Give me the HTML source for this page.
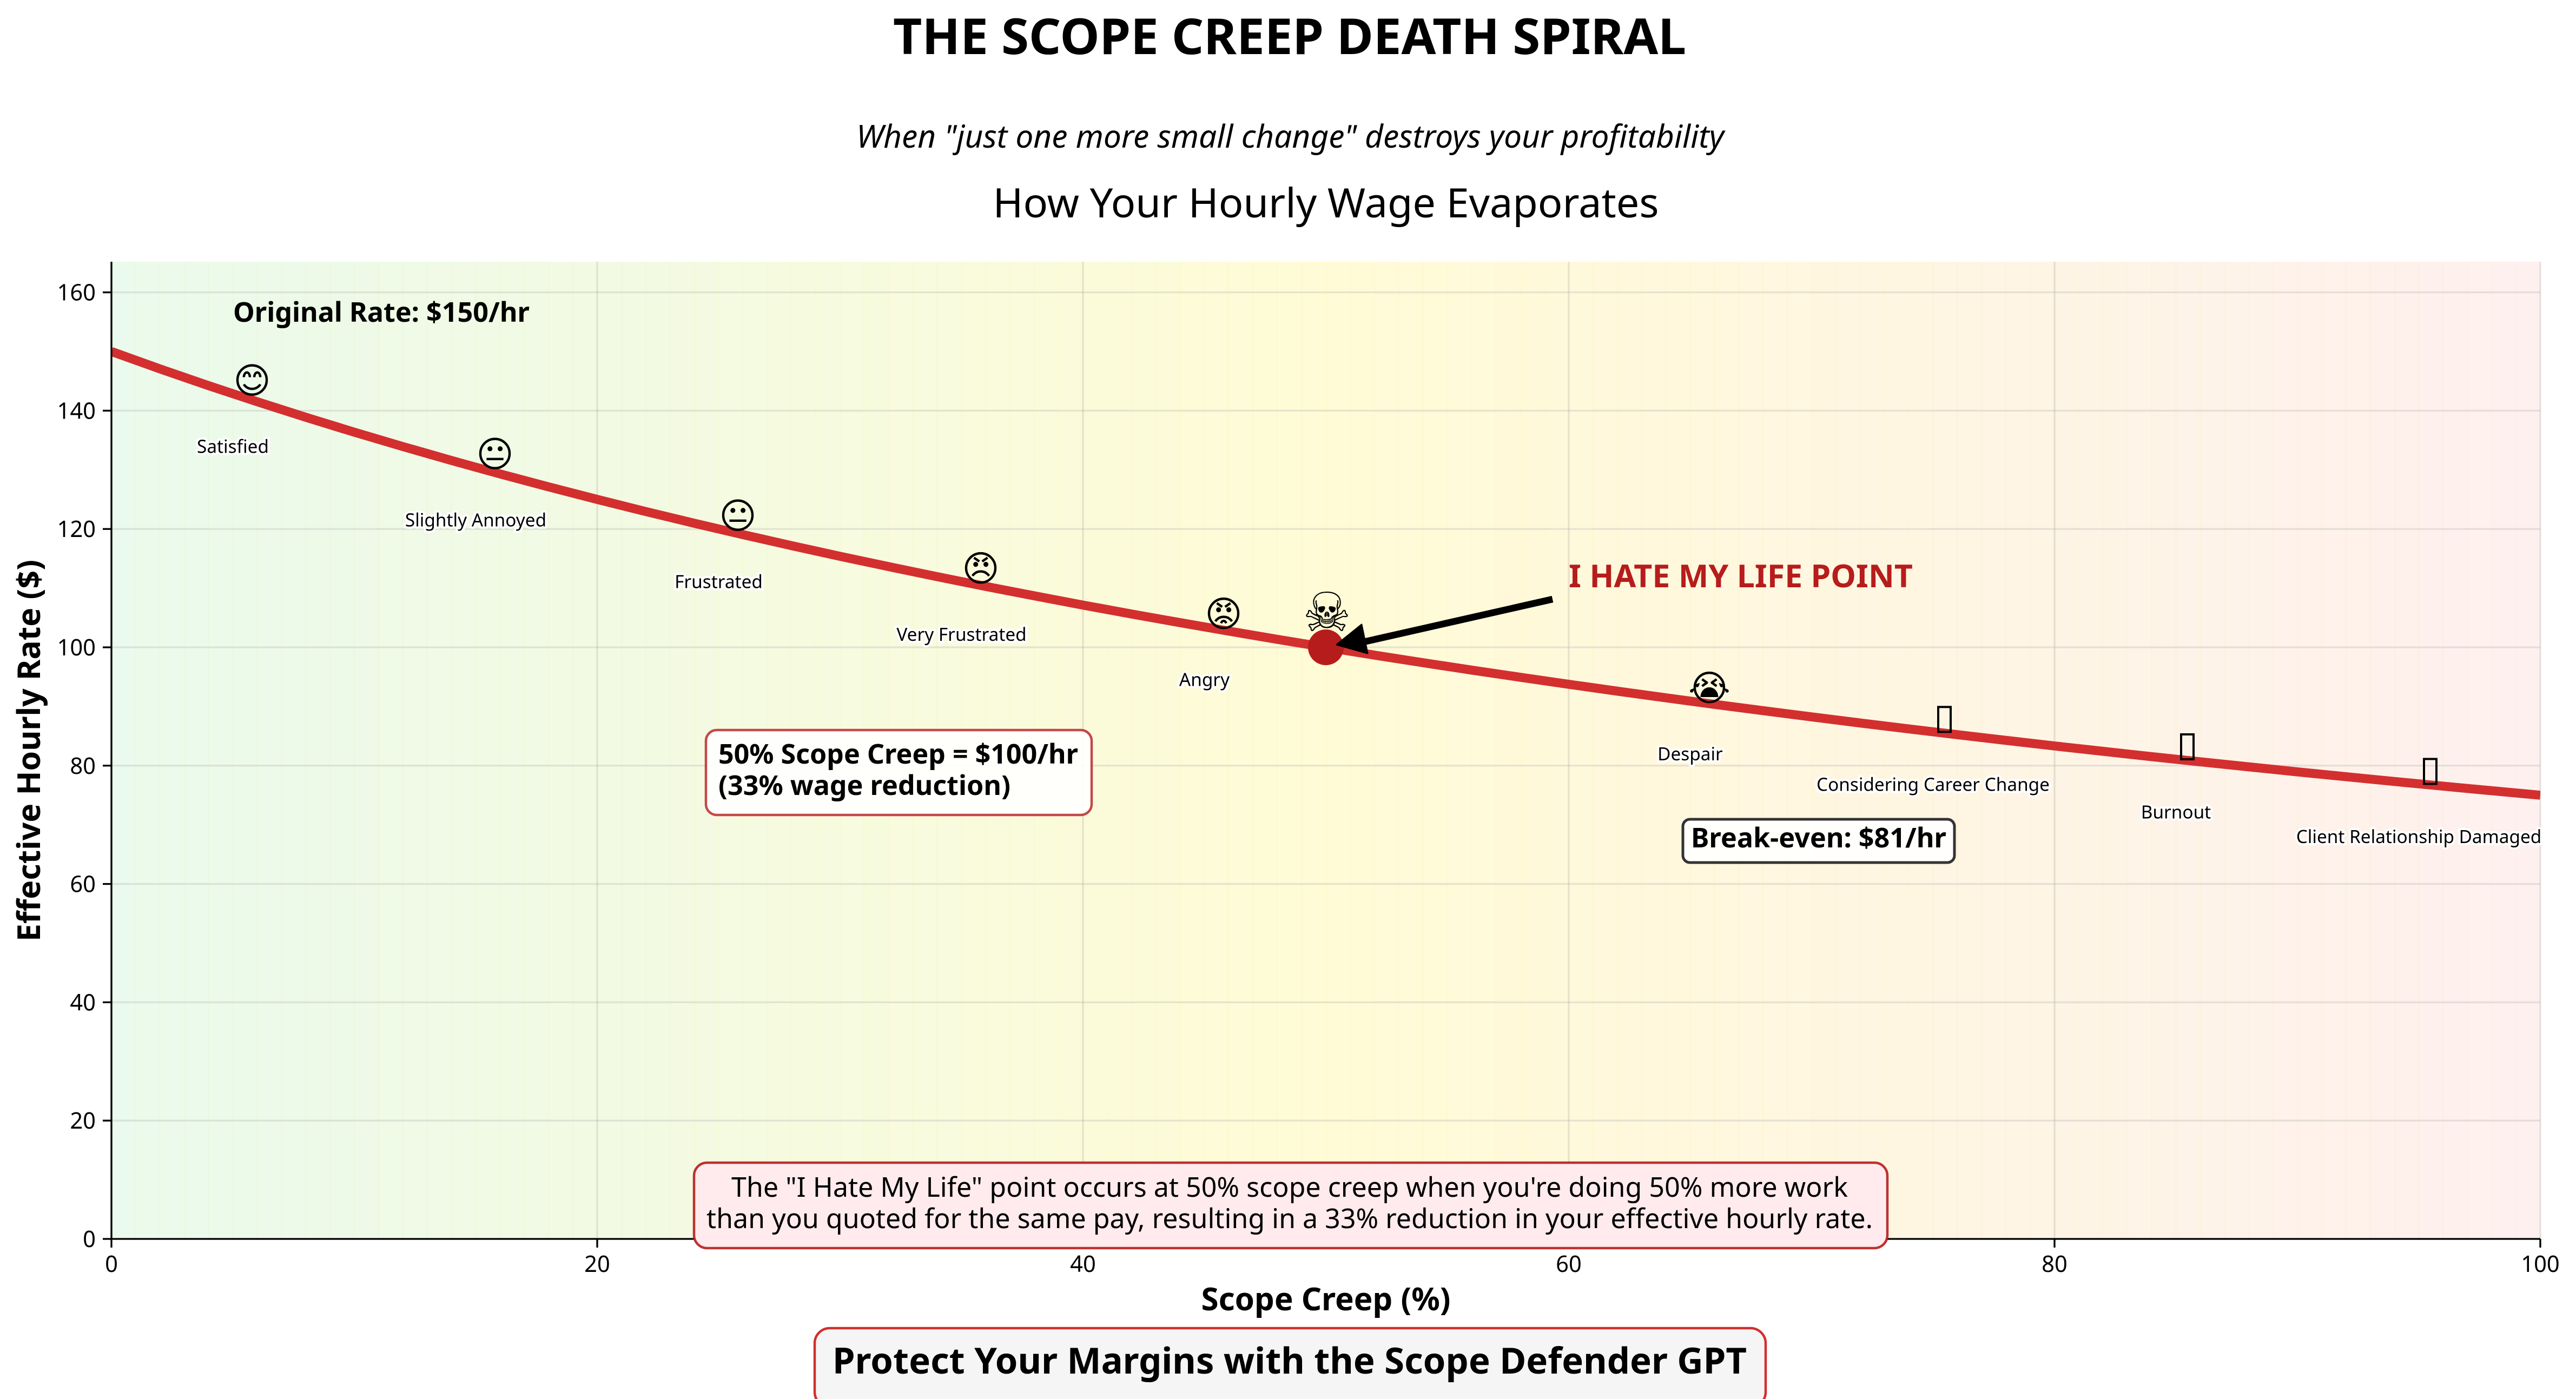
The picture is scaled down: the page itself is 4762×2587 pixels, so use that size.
<!DOCTYPE html>
<html lang="en">
<head>
<meta charset="utf-8">
<title>The Scope Creep Death Spiral</title>
<style>
html,body{margin:0;padding:0;background:#fff;width:4762px;height:2587px;overflow:hidden}
svg{display:block}
text{font-family:"Noto Sans","Noto Sans CJK JP","Liberation Sans",sans-serif;fill:#000}
.b{font-weight:700}
.emoji{font-family:"DejaVu Sans",sans-serif}
</style>
</head>
<body>
<svg id="chart" xmlns="http://www.w3.org/2000/svg" width="4762" height="2587" viewBox="0 0 4762 2587">
  <defs><clipPath id="plot-clip"><rect x="206" y="484" width="4490" height="1807"/></clipPath></defs>
  <g id="bg"></g>
  <g id="grid"></g>
  <g id="curve-layer" clip-path="url(#plot-clip)"></g>
  <g id="stages"></g>
  <g id="axes"></g>

  <text class="b" x="2384" y="100" font-size="91.67" text-anchor="middle" textLength="1466" lengthAdjust="spacingAndGlyphs">THE SCOPE CREEP DEATH SPIRAL</text>
  <text x="2385" y="273" font-size="58.33" font-style="italic" text-anchor="middle" textLength="1604" lengthAdjust="spacingAndGlyphs">When "just one more small change" destroys your profitability</text>
  <text x="2451" y="402" font-size="75" text-anchor="middle" textLength="1231" lengthAdjust="spacingAndGlyphs">How Your Hourly Wage Evaporates</text>

  <text class="b" transform="translate(74,1388) rotate(-90)" font-size="58.33" text-anchor="middle" textLength="706" lengthAdjust="spacingAndGlyphs">Effective Hourly Rate ($)</text>
  <text class="b" x="2451" y="2423" font-size="58.33" text-anchor="middle" textLength="461" lengthAdjust="spacingAndGlyphs">Scope Creep (%)</text>

  <text class="b" x="431" y="595" font-size="50" textLength="548" lengthAdjust="spacingAndGlyphs">Original Rate: $150/hr</text>

  <g>
    <rect x="1305" y="1350" width="713" height="157" rx="20" fill="#fff" fill-opacity="0.9" stroke="#b71c1c" stroke-opacity="0.8" stroke-width="4.5"/>
    <text class="b" x="1328" y="1412" font-size="50" textLength="665" lengthAdjust="spacingAndGlyphs">50% Scope Creep = $100/hr</text>
    <text class="b" x="1328" y="1470" font-size="50" textLength="540" lengthAdjust="spacingAndGlyphs">(33% wage reduction)</text>
  </g>

  <g>
    <rect x="3111" y="1515" width="502" height="80" rx="13" fill="#fff" fill-opacity="0.9" stroke="#333" stroke-width="5"/>
    <text class="b" x="3126" y="1567" font-size="50" textLength="472" lengthAdjust="spacingAndGlyphs">Break-even: $81/hr</text>
  </g>

  <text class="b" x="2900" y="1086" font-size="58.33" style="fill:#b71c1c" textLength="636" lengthAdjust="spacingAndGlyphs">I HATE MY LIFE POINT</text>

  <g>
    <rect x="1283" y="2150" width="2206" height="158" rx="24" fill="#ffebee" stroke="#b71c1c" stroke-opacity="0.9" stroke-width="4.5"/>
    <text x="2384" y="2213" font-size="50" text-anchor="middle" textLength="2064" lengthAdjust="spacingAndGlyphs">The "I Hate My Life" point occurs at 50% scope creep when you're doing 50% more work</text>
    <text x="2384" y="2271" font-size="50" text-anchor="middle" textLength="2156" lengthAdjust="spacingAndGlyphs">than you quoted for the same pay, resulting in a 33% reduction in your effective hourly rate.</text>
  </g>

  <g>
    <rect x="1506" y="2456" width="1758" height="146" rx="28" fill="#f5f5f5" stroke="#d32f2f" stroke-width="4.5"/>
    <text class="b" x="2384" y="2540" font-size="66.67" text-anchor="middle" textLength="1690" lengthAdjust="spacingAndGlyphs">Protect Your Margins with the Scope Defender GPT</text>
  </g>
</svg>
<script>
// ---- chart data ----
const curveScope = [0,2,4,6,8,10,12,14,16,18,20,22,24,26,28,30,32,34,36,38,40,42,44,46,48,50,52,54,56,58,60,62,64,66,68,70,72,74,76,78,80,82,84,86,88,90,92,94,96,98,100];
const curveRate = [150,147.06,144.23,141.51,138.89,136.36,133.93,131.58,129.31,127.12,125,122.95,120.97,119.05,117.19,115.38,113.64,111.94,110.29,108.7,107.14,105.63,104.17,102.74,101.35,100,98.68,97.4,96.15,94.94,93.75,92.59,91.46,90.36,89.29,88.24,87.21,86.21,85.23,84.27,83.33,82.42,81.52,80.65,79.79,78.95,78.13,77.32,76.53,75.76,75];
const stageNames = ["Satisfied","Slightly Annoyed","Frustrated","Very Frustrated","Angry","Despair","Considering Career Change","Burnout","Client Relationship Damaged"];
const stageScope = [5,15,25,35,45,65,75,85,95];
const stageRate = [142.86,130.43,120,111.11,103.45,90.91,85.71,81.08,76.92];
const stageGlyphs = ["\u{1F60A}","\u{1F610}","\u{1F610}","\u{1F620}","\u{1F621}","\u{1F62D}","","",""];
const labelDrop = 10;
const xTickValues = [0,20,40,60,80,100];
const yTickValues = [0,20,40,60,80,100,120,140,160];
const hatePointScope = 50;
const hatePointRate = 100;
const bandCount = 100;
const bgStopAt = [0,50,100];
const bgStopRed = [234,255,254];
const bgStopGreen = [250,251,240];
const bgStopBlue = [236,214,239];

// ---- axis functions ----
const X0 = 206, X1 = 4696, Y0 = 2291, PER_Y = 10.94;
const xPos = v => X0 + (X1 - X0) * v / 100;
const yPos = v => Y0 - PER_Y * v;
const NS = "http://www.w3.org/2000/svg";
const make = (parent, tag, attrs, text) => {
  const el = document.createElementNS(NS, tag);
  for (const k in attrs) el.setAttribute(k, attrs[k]);
  if (text !== undefined) el.textContent = text;
  parent.appendChild(el);
  return el;
};
const bg = document.getElementById("bg");
const grid = document.getElementById("grid");
const curveLayer = document.getElementById("curve-layer");
const stages = document.getElementById("stages");
const axes = document.getElementById("axes");

// background bands
function bandColor(t) {
  const j = t < bgStopAt[1] ? 0 : 1;
  const f = (t - bgStopAt[j]) / (bgStopAt[j + 1] - bgStopAt[j]);
  const mix = a => Math.round(a[j] + (a[j + 1] - a[j]) * f);
  return [mix(bgStopRed), mix(bgStopGreen), mix(bgStopBlue)];
}
for (let i = 0; i < bandCount; i++) {
  const left = xPos(i), right = xPos(i + 1);
  const c = bandColor(i + 0.5);
  const band = make(bg, "rect", {x: left, y: 484, width: right - left + 0.6, height: Y0 - 484, fill: `rgb(${c[0]},${c[1]},${c[2]})`});
  
  
  if (i > 0) {
    const seam = make(bg, "rect", {x: left - 1.6, y: 484, width: 3.2, height: Y0 - 484, fill: `rgb(${Math.max(c[0]-1,0)},${c[1]-3},${c[2]-16})`, "fill-opacity": 0.45});
    
    
  }
}

// grid
xTickValues.forEach(v => {
  const line = make(grid, "line", {x1: xPos(v), x2: xPos(v), y1: 484, y2: Y0, stroke: "#b0b0b0", "stroke-opacity": 0.3, "stroke-width": 3.33});
  
  
});
yTickValues.forEach(v => {
  const line = make(grid, "line", {x1: X0, x2: X1, y1: yPos(v), y2: yPos(v), stroke: "#b0b0b0", "stroke-opacity": 0.3, "stroke-width": 3.33});
  
  
});

// wage curve
const curve = make(curveLayer, "polyline", {
  points: curveScope.map((s, i) => xPos(s) + "," + yPos(curveRate[i])).join(" "),
  fill: "none", stroke: "#d32f2f", "stroke-width": 16.67, "stroke-linejoin": "round"
});



// emotional stages
stageNames.forEach((name, i) => {
  const px = xPos(stageScope[i]), py = yPos(stageRate[i]);
  if (stageGlyphs[i]) {
    const face = make(stages, "text", {x: px + 35.5, y: py - 1, "font-size": 66.67, "text-anchor": "middle", class: "emoji"}, stageGlyphs[i]);
    
    
  } else {
    const box = make(stages, "rect", {x: px + 9.5, y: py - 46, width: 23, height: 46, fill: "none", stroke: "#000", "stroke-width": 4});
    
    
  }
  const label = make(stages, "text", {x: px, y: yPos(stageRate[i] - labelDrop), "font-size": 33.33, "text-anchor": "middle", stroke: "#fff", "stroke-width": 8.3, "stroke-linejoin": "round", "paint-order": "stroke"}, name);
  
  
});

// axes
const ySpine = make(axes, "line", {x1: X0, x2: X0, y1: 484, y2: Y0 + 1.6, stroke: "#000", "stroke-width": 3.33});


const xSpine = make(axes, "line", {x1: X0 - 1.6, x2: X1, y1: Y0, y2: Y0, stroke: "#000", "stroke-width": 3.33});


xTickValues.forEach(v => {
  const tick = make(axes, "line", {x1: xPos(v), x2: xPos(v), y1: Y0, y2: Y0 + 16, stroke: "#000", "stroke-width": 3.33});
  
  
  const label = make(axes, "text", {x: xPos(v), y: 2352, "font-size": 41.67, "text-anchor": "middle"}, String(v));
  
  
});
yTickValues.forEach(v => {
  const tick = make(axes, "line", {x1: X0 - 16, x2: X0, y1: yPos(v), y2: yPos(v), stroke: "#000", "stroke-width": 3.33});
  
  
  const label = make(axes, "text", {x: 177, y: yPos(v) + 15, "font-size": 41.67, "text-anchor": "end"}, String(v));
  
  
});

// I-hate-my-life marker, skull and arrow
const hx = xPos(hatePointScope), hy = yPos(hatePointRate);
const dot = make(stages, "circle", {cx: hx, cy: hy, r: 33, fill: "#b71c1c"});


const skull = make(stages, "text", {x: hx + 2, y: hy - 30, "font-size": 100, "text-anchor": "middle", class: "emoji"}, "\u2620");


const shaft = make(stages, "line", {x1: hx + 419, y1: hy - 89, x2: hx + 70, y2: hy - 10, stroke: "#000", "stroke-width": 12.5, "stroke-linecap": "butt"});


const head = make(stages, "polygon", {points: `${hx + 20},${hy - 5} ${hx + 66},${hy - 42} ${hx + 77},${hy + 11}`, fill: "#000", stroke: "#000", "stroke-width": 3, "stroke-linejoin": "round"});


</script>
</body>
</html>
